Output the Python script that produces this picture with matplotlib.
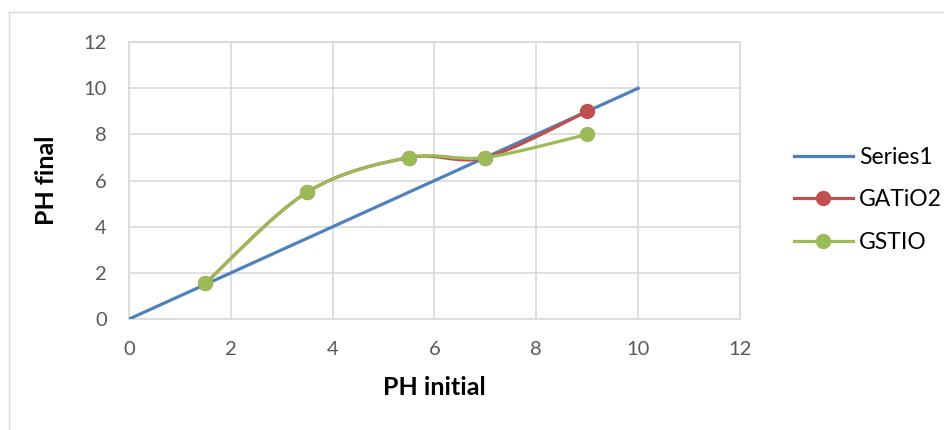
import numpy as np
import matplotlib.pyplot as plt
from matplotlib.path import Path
from matplotlib.patches import PathPatch
from matplotlib.lines import Line2D

plt.rcParams['font.family'] = ['Lato', 'DejaVu Sans']

# data
ph_initial = [1.5, 3.5, 5.5, 7, 9]
gatio2 = [1.55, 5.5, 7.0, 7.0, 9.0]
gstio = [1.55, 5.5, 7.0, 7.0, 8.0]
series1_x = [0, 10]
series1_y = [0, 10]
ticks = [0, 2, 4, 6, 8, 10, 12]

blue = '#4F81BD'
red = '#C0504D'
green = '#9BBB59'
grid_c = '#D9D9D9'


def smooth_path(x, y):
    # Excel-style smoothed line: cubic bezier segments through the points
    p = np.column_stack([x, y]).astype(float)
    n = len(p)
    verts = [p[0]]
    codes = [Path.MOVETO]
    for i in range(n - 1):
        p0 = p[i - 1] if i > 0 else p[i]
        p3 = p[i + 2] if i + 2 < n else p[i + 1]
        c1 = p[i] + (p[i + 1] - p0) / 6.0
        c2 = p[i + 1] - (p3 - p[i]) / 6.0
        verts += [c1, c2, p[i + 1]]
        codes += [Path.CURVE4] * 3
    return Path(verts, codes)


fig = plt.figure(figsize=(9.45, 4.3), dpi=100)
ax = fig.add_axes([0.1365, 0.258, 0.6465, 0.644])

# chart area border (only top and left visible in the crop)
fig.add_artist(Line2D([0.0095, 1.0], [0.972, 0.972], transform=fig.transFigure,
                      color=grid_c, linewidth=1.0))
fig.add_artist(Line2D([0.0095, 0.0095], [0.0, 0.972], transform=fig.transFigure,
                      color=grid_c, linewidth=1.0))

ax.plot(series1_x, series1_y, color=blue, linewidth=2.3, zorder=3)

for ys, c in [(gatio2, red), (gstio, green)]:
    ax.add_patch(PathPatch(smooth_path(ph_initial, ys), facecolor='none',
                           edgecolor=c, linewidth=2.3, zorder=4))
    ax.plot(ph_initial, ys, linestyle='none', marker='o', markersize=10,
            color=c, zorder=5)

ax.set_xlim(0, 12)
ax.set_ylim(0, 12)
ax.set_xticks(ticks)
ax.set_yticks(ticks)
ax.grid(True, color=grid_c, linewidth=1.2)
ax.set_axisbelow(True)
for s in ax.spines.values():
    s.set_color(grid_c)
    s.set_linewidth(1.2)
ax.tick_params(length=0, labelsize=14.5, labelcolor='#595959')
ax.tick_params(axis='x', pad=16)
ax.tick_params(axis='y', pad=16)

ax.set_xlabel('PH initial', fontsize=18, fontweight='bold', labelpad=13)
ax.set_ylabel('PH final', fontsize=18, fontweight='bold', labelpad=18)

handles = [
    Line2D([], [], color=blue, linewidth=2.3),
    Line2D([], [], color=red, linewidth=2.3, marker='o', markersize=10),
    Line2D([], [], color=green, linewidth=2.3, marker='o', markersize=10),
]
fig.legend(handles, ['Series1', 'GATiO2', 'GSTIO'], loc='center left',
           bbox_to_anchor=(0.818, 0.535), frameon=False, fontsize=16.5,
           handlelength=2.6, labelspacing=0.95, handletextpad=0.25)

fig.savefig('out.png', dpi=100)
